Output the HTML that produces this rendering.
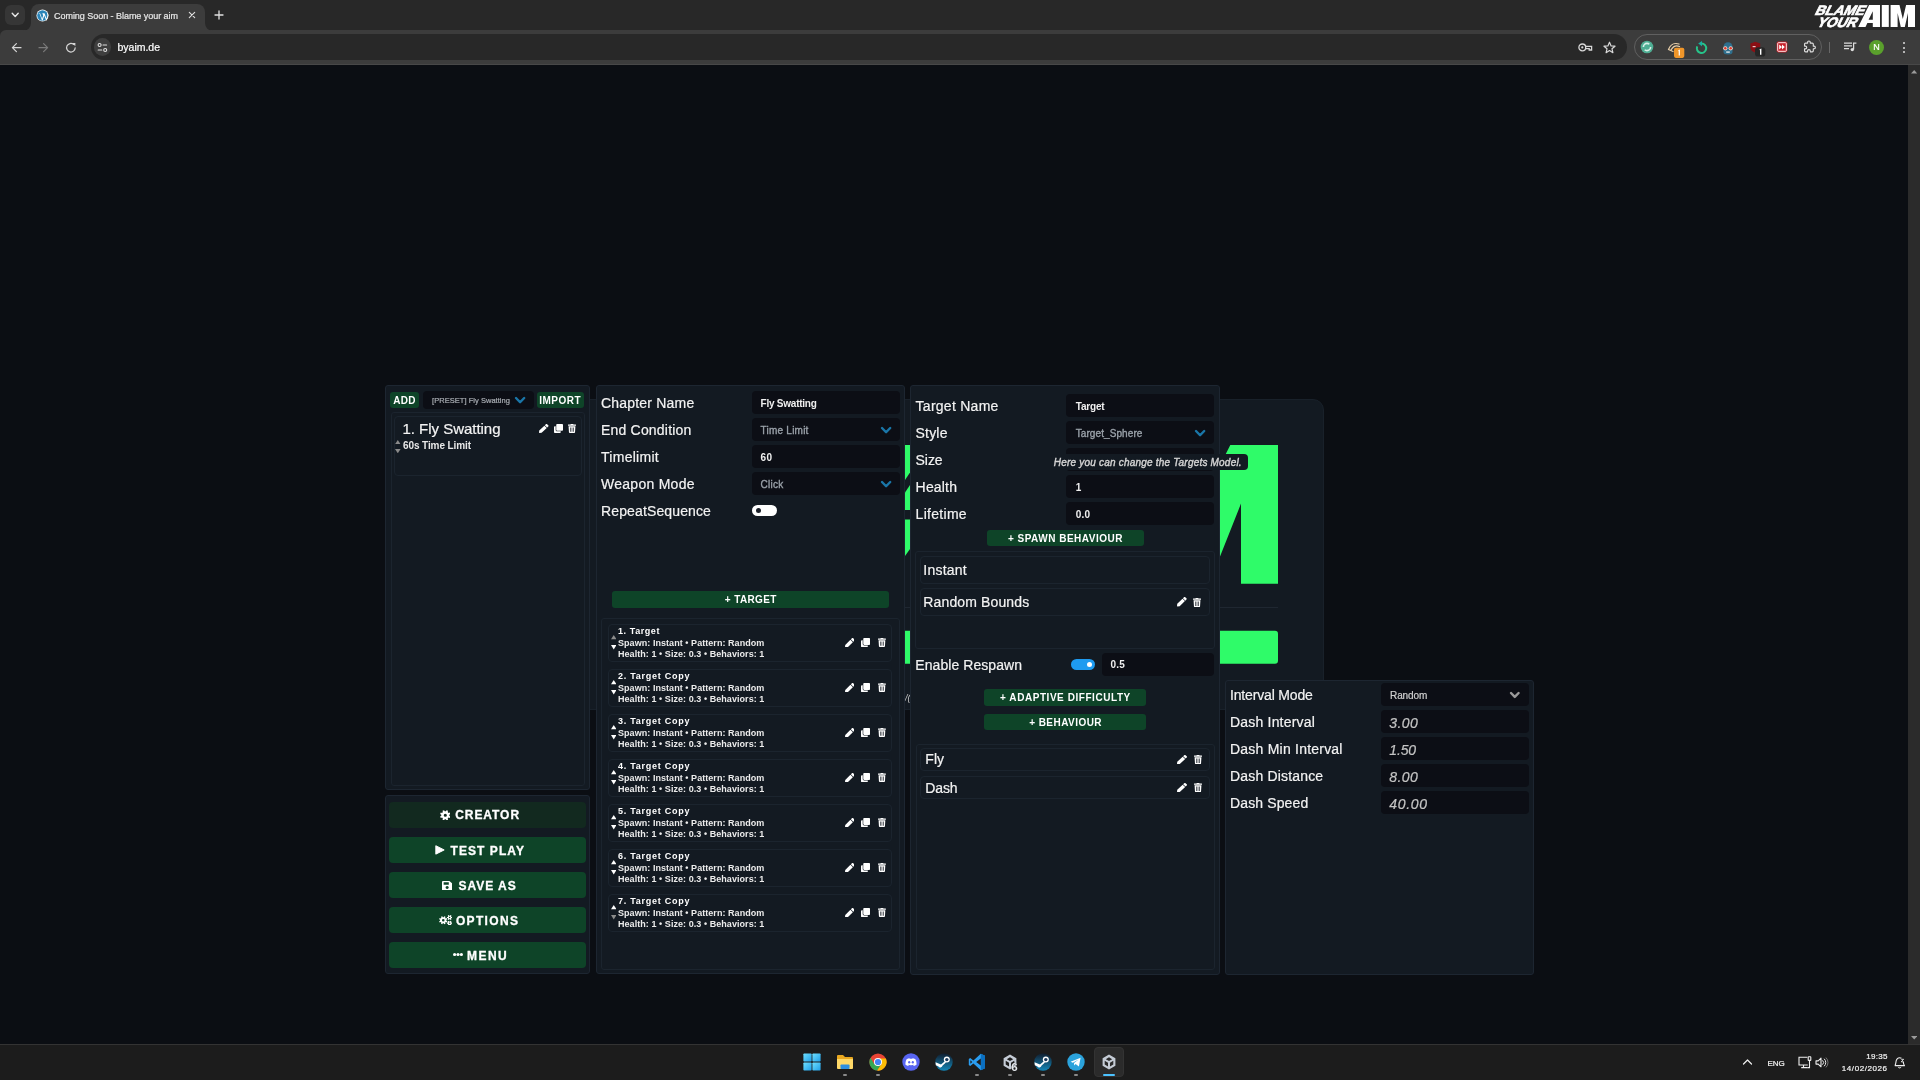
<!DOCTYPE html>
<html>
<head>
<meta charset="utf-8">
<title>Coming Soon - Blame your aim</title>
<style>
*{box-sizing:border-box;margin:0;padding:0}
html,body{width:1920px;height:1080px;overflow:hidden;background:#0b0e13;font-family:"Liberation Sans",sans-serif;color:#fff}
.a{position:absolute}
.t{position:absolute;white-space:nowrap;line-height:1}
/* chrome */
#tabstrip{left:0;top:0;width:1920px;height:31px;background:#282828}
#toolbar{left:0;top:30px;width:1920px;height:35px;background:#3c3c3c;border-bottom:1px solid #484848}
#tab{left:31px;top:4px;width:174px;height:27px;background:#3c3c3c;border-radius:8px 8px 0 0}
#urlbar{left:91px;top:34px;width:1536px;height:26px;border-radius:13px;background:#282828}
#extpill{left:1634px;top:34px;width:188px;height:26px;border-radius:13px;border:1px solid #606060}
/* page */
#scroll{left:1908px;top:65px;width:12px;height:979px;background:#2b2b2b}
#taskbar{left:0;top:1044px;width:1920px;height:36px;background:#1c1c1c;border-top:1px solid #333}
/* panels */
.panel{position:absolute;background:#131a22;border:1px solid #1d2631;border-radius:3px}
.box{position:absolute;border:1px solid #1b242e;border-radius:3px;background:#131a22}
.inp{position:absolute;background:#0c0e15;border-radius:4px;height:23px}
.gb{position:absolute;background:#0e4428;border-radius:3px}
.lbl{position:absolute;white-space:nowrap;font-size:14px;line-height:1;color:#f2f2f2}
.ico{position:absolute;fill:#fff}
</style>
</head>
<body>
<div id="root" style="position:absolute;left:0;top:0;width:1920px;height:1080px;will-change:transform">
<!-- ===== browser chrome ===== -->
<div class="a" id="tabstrip"></div>
<div class="a" id="toolbar"></div>
<div class="a" id="tab"></div>
<div class="a" id="urlbar"></div>
<div class="a" id="extpill"></div>
<!--CHROME-DETAILS-->
<svg class="a" style="left:23.00px;top:23.00px" width="8" height="8" viewBox="0 0 8 8"><path fill="#3c3c3c" d="M8 0 V8 H0 A8 8 0 0 0 8 0Z"/></svg>
<svg class="a" style="left:205.00px;top:23.00px" width="8" height="8" viewBox="0 0 8 8"><path fill="#3c3c3c" d="M0 0 V8 H8 A8 8 0 0 1 0 0Z"/></svg>
<svg class="a" style="left:0.00px;top:30.00px" width="6" height="6" viewBox="0 0 6 6"><path fill="#282828" d="M0 0 H6 A6 6 0 0 0 0 6Z"/></svg>
<div class="a" style="left:4.7px;top:4.7px;width:20.8px;height:20.8px;background:#363636;border-radius:6px"></div>
<svg class="a" style="left:11.00px;top:11.00px" width="9" height="8" viewBox="0 0 9 8"><polyline fill="none" stroke="#e6e6e6" stroke-width="1.4" stroke-linecap="round" stroke-linejoin="round" points="1.2,2.2 4.2,5.4 7.2,2.2"/></svg>
<svg class="a" style="left:35.50px;top:8.80px" width="13" height="13" viewBox="0 0 13 13"><circle cx="6.5" cy="6.5" r="6" fill="#fff"/><circle cx="6.5" cy="6.5" r="5.3" fill="#2a84b8"/><path fill="#fff" d="M2 4.2 h2.1 l2 5.6 1.1-3.2 -0.9-2.4 h2.2 l2 5.6 0.9-3 c0.3-1 0.1-1.6-0.4-2.4 l0.6-0.4 c0.8 1.2 0.8 2.2 0.5 3.2 l-1.4 4.3 h-0.6 l-1.8-5 -1.7 5 h-0.6 l-2.4-6.7z"/></svg>
<div class="t" style="left:54.00px;top:12.00px;font-size:9px;color:#e8e8e8;-webkit-text-stroke:0.2px;letter-spacing:-0.038px;">Coming Soon - Blame your aim</div>
<svg class="a" style="left:188.00px;top:11.00px" width="8" height="8" viewBox="0 0 8 8"><path stroke="#e0e0e0" stroke-width="1.1" stroke-linecap="round" d="M1.3 1.3 L6.7 6.7 M6.7 1.3 L1.3 6.7"/></svg>
<svg class="a" style="left:214.00px;top:10.00px" width="10" height="10" viewBox="0 0 10 10"><path stroke="#e0e0e0" stroke-width="1.3" stroke-linecap="round" d="M5 1 V9 M1 5 H9"/></svg>
<svg class="a" style="left:11.00px;top:41.50px" width="11" height="11" viewBox="0 0 11 11"><path fill="none" stroke="#d6d6d6" stroke-width="1.2" stroke-linecap="round" stroke-linejoin="round" d="M10 5.7 H1.6 M5.4 1.7 L1.4 5.7 L5.4 9.7"/></svg>
<svg class="a" style="left:38.00px;top:41.50px" width="11" height="11" viewBox="0 0 11 11"><path fill="none" stroke="#7a7a7a" stroke-width="1.2" stroke-linecap="round" stroke-linejoin="round" d="M1 5.7 H9.4 M5.6 1.7 L9.6 5.7 L5.6 9.7"/></svg>
<svg class="a" style="left:64.50px;top:41.50px" width="12" height="12" viewBox="0 0 12 12"><path fill="none" stroke="#d6d6d6" stroke-width="1.2" stroke-linecap="round" d="M10.2 5.8 A4.3 4.3 0 1 1 8.6 2.4"/><path fill="#d6d6d6" d="M7.2 0.9 L10.4 1 L10.3 4.3Z"/></svg>
<div class="a" style="left:93.8px;top:38.4px;width:17.6px;height:17.6px;background:#3e3e3e;border-radius:50%"></div>
<svg class="a" style="left:97.00px;top:42.00px" width="11" height="11" viewBox="0 0 11 11"><g fill="none" stroke="#e0e0e0" stroke-width="1.1" stroke-linecap="round"><circle cx="2.6" cy="3" r="1.5"/><path d="M6 3 H9.6"/><circle cx="8.2" cy="8" r="1.5"/><path d="M1.2 8 H4.8"/></g></svg>
<div class="t" style="left:117.50px;top:42.00px;font-size:10.5px;color:#fff;-webkit-text-stroke:0.2px;letter-spacing:-0.013px;">byaim.de</div>
<svg class="a" style="left:1578.00px;top:42.00px" width="15" height="11" viewBox="0 0 15 11"><g fill="none" stroke="#d8d8d8" stroke-width="1.3"><circle cx="4.3" cy="5.4" r="3.4"/><path d="M7.7 4.4 H13.6 V8 H11.2 V6.6 H7.7"/></g><circle cx="4.3" cy="5.4" r="1.1" fill="#d8d8d8"/></svg>
<svg class="a" style="left:1603.00px;top:40.50px" width="13" height="13" viewBox="0 0 13 13"><path fill="none" stroke="#d8d8d8" stroke-width="1.2" stroke-linejoin="round" d="M6.5 1.2 L8.1 4.9 L12 5.2 L9 7.8 L9.9 11.7 L6.5 9.6 L3.1 11.7 L4 7.8 L1 5.2 L4.9 4.9Z"/></svg>
<svg class="a" style="left:1640.00px;top:40.40px" width="14" height="14" viewBox="0 0 14 14"><circle cx="7" cy="7" r="6.3" fill="#4fae94"/><circle cx="7" cy="7" r="3.6" fill="none" stroke="#d9f0e8" stroke-width="1.6" stroke-dasharray="8 3"/></svg>
<svg class="a" style="left:1667.00px;top:40.00px" width="18" height="19" viewBox="0 0 18 19"><path fill="none" stroke="#e9cfa9" stroke-width="1.3" stroke-linecap="round" d="M1.5 9.5 C3 5 7 2.5 12 4 M4 10 C6 6.5 9 5 12.5 6.5 M1.5 9.5 L6 11.5"/><rect x="7" y="7.7" width="10.3" height="10.2" rx="1.8" fill="#f0962a"/><path fill="#fff" d="M11.3 10.3 l1.6-0.7 v6 h-1.2 v-4.6 l-0.4 0.2z"/></svg>
<svg class="a" style="left:1694.50px;top:40.50px" width="13" height="14" viewBox="0 0 13 14"><path fill="none" stroke="#27c48a" stroke-width="2" d="M6.5 2.6 A4.7 4.7 0 1 1 2.2 5.4"/><path fill="#18b0a0" d="M3.2 2.6 L7 0 V5.2Z"/></svg>
<svg class="a" style="left:1721.00px;top:40.50px" width="14" height="14" viewBox="0 0 14 14"><path fill="#2e6f8e" d="M2.5 6 A4.5 4.8 0 0 1 11.5 6 V11 A4.5 2.5 0 0 1 2.5 11Z"/><circle cx="4.3" cy="7.3" r="2.1" fill="#e8d9cc"/><circle cx="9.7" cy="7.3" r="2.1" fill="#e8d9cc"/><circle cx="4.3" cy="7.3" r="1.2" fill="#e0352b"/><circle cx="9.7" cy="7.3" r="1.2" fill="#e0352b"/><rect x="5.2" y="10.3" width="3.6" height="1.6" fill="#c9d6dc"/></svg>
<svg class="a" style="left:1749.00px;top:41.00px" width="18" height="17" viewBox="0 0 18 17"><path fill="#8b0f14" d="M6.3 0.8 L11.2 2.4 V6.4 C11.2 9 9 10.6 6.3 11.4 C3.6 10.6 1.4 9 1.4 6.4 V2.4Z"/><rect x="3.6" y="5" width="3" height="1.2" fill="#e8c9c9"/><rect x="6" y="6.2" width="10.3" height="9.4" rx="3.2" fill="#262626"/><path fill="#fff" d="M10.6 8.2 l1.8-0.7 v6.2 h-1.4 v-4.6 l-0.4 0.2z"/></svg>
<svg class="a" style="left:1776.00px;top:41.00px" width="12" height="12" viewBox="0 0 12 12"><rect x="0.6" y="0.6" width="10.8" height="10.8" rx="1.8" fill="#c8202a"/><rect x="1.7" y="1.7" width="8.6" height="8.6" rx="0.8" fill="none" stroke="#fff" stroke-width="0.9"/><path fill="#fff" d="M3.2 3.6 L6 6 L3.2 8.4Z M6 3.6 L8.8 6 L6 8.4Z"/></svg>
<svg class="a" style="left:1803.00px;top:40.20px" width="13.4" height="13.4" viewBox="-1 -1 26 26"><path fill="none" stroke="#dedede" stroke-width="2.2" stroke-linejoin="round" d="M20.5 11H19V7c0-1.1-.9-2-2-2h-4V3.5C13 2.12 11.88 1 10.5 1S8 2.12 8 3.5V5H4c-1.1 0-1.99.9-1.99 2v3.8H3.5c1.49 0 2.7 1.21 2.7 2.7s-1.21 2.7-2.7 2.7H2V20c0 1.1.9 2 2 2h3.8v-1.5c0-1.49 1.21-2.7 2.7-2.7 1.49 0 2.7 1.21 2.7 2.7V22H17c1.1 0 2-.9 2-2v-4h1.5c1.38 0 2.5-1.12 2.5-2.5S21.88 11 20.5 11z"/></svg>
<div class="a" style="left:1828.6px;top:41.6px;width:1.2px;height:11.2px;background:#686868"></div>
<svg class="a" style="left:1844.00px;top:42.00px" width="13" height="10" viewBox="0 0 13 10"><g stroke="#dcdcdc" stroke-width="1.25" fill="none"><path d="M0 1.2 H8 M0 3.9 H8 M0 6.6 H5"/><path d="M9.6 7.4 V1 H12.4"/></g><circle cx="8.3" cy="7.6" r="1.7" fill="#dcdcdc"/></svg>
<div class="a" style="left:1868.9px;top:39.7px;width:15.0px;height:15.0px;background:#5aa02c;border-radius:50%"></div>
<div class="t" style="left:1873.15px;top:43.00px;font-size:9px;color:#fff;-webkit-text-stroke:0.2px;">N</div>
<div class="a" style="left:1902.5px;top:42.0px;width:2.0px;height:2.0px;background:#dcdcdc;border-radius:50%"></div>
<div class="a" style="left:1902.5px;top:46.5px;width:2.0px;height:2.0px;background:#dcdcdc;border-radius:50%"></div>
<div class="a" style="left:1902.5px;top:51.0px;width:2.0px;height:2.0px;background:#dcdcdc;border-radius:50%"></div>
<svg class="a" style="left:1808.00px;top:0.00px" width="112" height="32" viewBox="0 0 112 32"><g fill="#fff"><g transform="translate(5.9,14.9) skewX(-26.4)"><text x="0" y="0" font-family="Liberation Sans" font-weight="bold" font-size="13.6" textLength="49.5" lengthAdjust="spacingAndGlyphs" stroke="#fff" stroke-width="0.7">BLAME</text></g><g transform="translate(7.9,26.95) skewX(-26.4)"><text x="0" y="0" font-family="Liberation Sans" font-weight="bold" font-size="13.8" textLength="39.6" lengthAdjust="spacingAndGlyphs" stroke="#fff" stroke-width="0.7">YOUR</text></g><path fill-rule="evenodd" d="M50.2 26.95 L61.1 5 H72 V26.95 H64.8 V23 H59.4 L57.5 26.95Z M64.8 11.2 V19.8 H60.6Z"/><rect x="73.8" y="5" width="7" height="21.95"/><path d="M82.6 5 H91.5 L94.8 19 L98.1 5 H107 V26.95 H100 V13 L96.8 26.95 H92.8 L89.6 13 V26.95 H82.6Z"/></g></svg>
<!--/CHROME-DETAILS-->

<!-- ===== page ===== -->
<div class="a" id="scroll"></div>
<div class="a" id="card" style="left:560px;top:399px;width:764px;height:311px;background:#131a22;border:1px solid #19212a;border-radius:11px"></div>
<svg class="a" style="left:0;top:0" width="1920" height="1080">
 <g fill="#2ffb69">
  <polygon points="1230.3,445 1278,445 1278,583.7 1241,583.7 1241,503.6 1200,607 1190,607 1190,525"/>
  <polygon points="905,445 910,445 910,472.5 905,480"/>
  <polygon points="905,492.5 910,485 910,510 905,510"/>
  <polygon points="905,519.5 910,519.5 910,549 905,556"/>
  <rect x="900" y="630.7" width="378" height="33" rx="3"/>
 </g>
 <rect x="900" y="607" width="378" height="1" fill="#1f2731"/>
</svg>
<div class="t" style="left:905px;top:694px;font-size:9px;font-style:italic;color:#c8c8c8">/(</div>

<!--LEFT-->
<div class="panel" style="left:385.0px;top:385.0px;width:205.0px;height:405.0px;"></div>
<div class="gb" style="left:390.0px;top:392.0px;width:29.0px;height:16.0px;"></div>
<div class="t" style="left:393.25px;top:396.00px;font-size:10px;color:#fff;font-weight:bold;letter-spacing:0.278px;">ADD</div>
<div class="inp" style="left:423.0px;top:391.0px;width:111.0px;height:18.0px;height:18px"></div>
<div class="t" style="left:432.00px;top:397.00px;font-size:7.5px;color:#a9adb3;-webkit-text-stroke:0.2px;letter-spacing:0.043px;">[PRESET] Fly Swatting</div>
<svg class="a" style="left:512.90px;top:395.38px" width="14.20" height="10.24"><polyline fill="none" stroke="#1a76a8" stroke-width="2.4" stroke-linecap="round" stroke-linejoin="round" points="3,3 7.10,7.24 11.20,3"/></svg>
<div class="gb" style="left:537.0px;top:392.0px;width:47.0px;height:16.0px;"></div>
<div class="t" style="left:539.20px;top:396.00px;font-size:10px;color:#fff;font-weight:bold;letter-spacing:0.519px;">IMPORT</div>
<div class="box" style="left:391.0px;top:412.0px;width:194.0px;height:374.0px;"></div>
<div class="box" style="left:393.5px;top:416.0px;width:188.1px;height:59.5px;border-radius:4px"></div>
<div class="t" style="left:402.50px;top:421.00px;font-size:15px;color:#f4f4f4;-webkit-text-stroke:0.2px;letter-spacing:-0.025px;">1. Fly Swatting</div>
<svg class="a" style="left:539.00px;top:424.00px" width="9.50" height="9.00" viewBox="0 0 512 512" preserveAspectRatio="none"><path fill="#fff" fill-rule="evenodd" d="M290.74 93.24l128.02 128.02-277.99 277.99-114.14 12.6C11.35 513.54-1.56 500.62.14 485.34l12.7-114.22 277.9-277.88zm207.2-19.06l-60.11-60.11c-18.75-18.75-49.16-18.75-67.91 0l-56.55 56.55 128.02 128.02 56.55-56.55c18.75-18.76 18.75-49.16 0-67.91z"/></svg>
<svg class="a" style="left:554.00px;top:424.00px" width="9.00" height="9.00" viewBox="0 0 512 512" preserveAspectRatio="none"><path fill="#fff" fill-rule="evenodd" d="M464 0c26.51 0 48 21.49 48 48v288c0 26.51-21.49 48-48 48H176c-26.51 0-48-21.49-48-48V48c0-26.51 21.49-48 48-48h288M176 416c-44.112 0-80-35.888-80-80V128H48c-26.51 0-48 21.49-48 48v288c0 26.51 21.49 48 48 48h288c26.51 0 48-21.49 48-48v-48H176z"/></svg>
<svg class="a" style="left:568.00px;top:424.00px" width="8.00" height="9.00" viewBox="0 0 448 512" preserveAspectRatio="none"><path fill="#fff" fill-rule="evenodd" d="M432 32H312l-9.4-18.7A24 24 0 0 0 281.1 0H166.8a23.72 23.72 0 0 0-21.4 13.3L136 32H16A16 16 0 0 0 0 48v32a16 16 0 0 0 16 16h416a16 16 0 0 0 16-16V48a16 16 0 0 0-16-16zM53.2 467a48 48 0 0 0 47.9 45h245.8a48 48 0 0 0 47.9-45L416 128H32zM120 200h36v240h-36zM206 200h36v240h-36zM292 200h36v240h-36z"/></svg>
<svg class="a" style="left:395.40px;top:439.75px" width="5.60" height="4.30"><polygon fill="#8a8a8a" points="2.80,0 5.60,4.30 0,4.30"/></svg>
<svg class="a" style="left:395.40px;top:448.75px" width="5.60" height="4.30"><polygon fill="#8a8a8a" points="0,0 5.60,0 2.80,4.30"/></svg>
<div class="t" style="left:403.00px;top:441.00px;font-size:10px;color:#e8e8e8;font-weight:bold;letter-spacing:-0.092px;">60s Time Limit</div>
<div class="panel" style="left:385.0px;top:795.0px;width:205.0px;height:179.0px;"></div>
<div class="gb" style="left:389.0px;top:802.0px;width:197.0px;height:26.2px;border-radius:4px;background:#12291f;"></div>
<div class="gb" style="left:389.0px;top:836.7px;width:197.0px;height:26.6px;border-radius:4px;"></div>
<div class="gb" style="left:389.0px;top:871.7px;width:197.0px;height:26.7px;border-radius:4px;"></div>
<div class="gb" style="left:389.0px;top:906.5px;width:197.0px;height:26.9px;border-radius:4px;"></div>
<div class="gb" style="left:389.0px;top:941.8px;width:197.0px;height:26.5px;border-radius:4px;"></div>
<div class="t" style="left:455.20px;top:809.00px;font-size:12px;color:#fff;font-weight:bold;letter-spacing:0.939px;-webkit-text-stroke:0.3px;">CREATOR</div>
<svg class="a" style="left:439.70px;top:809.70px" width="10.60" height="10.50" viewBox="0 0 100 100" preserveAspectRatio="none"><path fill="#fff" fill-rule="evenodd" d="M87.58 55.65 L98.71 61.29 L92.43 76.46 L80.57 72.58 L72.58 80.57 L76.46 92.43 L61.29 98.71 L55.65 87.58 L44.35 87.58 L38.71 98.71 L23.54 92.43 L27.42 80.57 L19.43 72.58 L7.57 76.46 L1.29 61.29 L12.42 55.65 L12.42 44.35 L1.29 38.71 L7.57 23.54 L19.43 27.42 L27.42 19.43 L23.54 7.57 L38.71 1.29 L44.35 12.42 L55.65 12.42 L61.29 1.29 L76.46 7.57 L72.58 19.43 L80.57 27.42 L92.43 23.54 L98.71 38.71 L87.58 44.35Z M35.00 50.00 a15.00 15.00 0 1 0 30.00 0 a15.00 15.00 0 1 0 -30.00 0Z"/></svg>
<div class="t" style="left:450.60px;top:845.00px;font-size:12px;color:#fff;font-weight:bold;letter-spacing:1.055px;-webkit-text-stroke:0.3px;">TEST PLAY</div>
<svg class="a" style="left:434.90px;top:845.30px" width="10.00" height="9.90" viewBox="0 0 100 110" preserveAspectRatio="none"><path fill="#fff" stroke="#fff" stroke-width="10" stroke-linejoin="round" d="M8 8 L92 55 L8 102Z"/></svg>
<div class="t" style="left:458.60px;top:880.00px;font-size:12px;color:#fff;font-weight:bold;letter-spacing:0.951px;-webkit-text-stroke:0.3px;">SAVE AS</div>
<svg class="a" style="left:442.00px;top:880.60px" width="10.30" height="9.40" viewBox="0 0 100 100" preserveAspectRatio="none"><path fill="#fff" fill-rule="evenodd" d="M10 0 H72 L100 28 V90 a10 10 0 0 1 -10 10 H10 a10 10 0 0 1 -10 -10 V10 a10 10 0 0 1 10 -10Z M16 14 V40 H66 V14Z M50 54 a15 15 0 1 0 0.01 0Z"/></svg>
<div class="t" style="left:455.90px;top:915.00px;font-size:12px;color:#fff;font-weight:bold;letter-spacing:1.342px;-webkit-text-stroke:0.3px;">OPTIONS</div>
<svg class="a" style="left:439.00px;top:914.70px" width="13.40" height="10.70" viewBox="0 0 126 106" preserveAspectRatio="none"><path fill="#fff" fill-rule="evenodd" d="M69.67 56.46 L78.97 61.03 L73.94 73.17 L64.13 69.82 L57.82 76.13 L61.17 85.94 L49.03 90.97 L44.46 81.67 L35.54 81.67 L30.97 90.97 L18.83 85.94 L22.18 76.13 L15.87 69.82 L6.06 73.17 L1.03 61.03 L10.33 56.46 L10.33 47.54 L1.03 42.97 L6.06 30.83 L15.87 34.18 L22.18 27.87 L18.83 18.06 L30.97 13.03 L35.54 22.33 L44.46 22.33 L49.03 13.03 L61.17 18.06 L57.82 27.87 L64.13 34.18 L73.94 30.83 L78.97 42.97 L69.67 47.54Z M28.00 52.00 a12.00 12.00 0 1 0 24.00 0 a12.00 12.00 0 1 0 -24.00 0Z M117.06 19.26 L125.37 19.33 L125.37 30.67 L117.06 30.74 L113.50 36.90 L117.60 44.14 L107.78 49.81 L103.56 42.64 L96.44 42.64 L92.22 49.81 L82.40 44.14 L86.50 36.90 L82.94 30.74 L74.63 30.67 L74.63 19.33 L82.94 19.26 L86.50 13.10 L82.40 5.86 L92.22 0.19 L96.44 7.36 L103.56 7.36 L107.78 0.19 L117.60 5.86 L113.50 13.10Z M93.00 25.00 a7.00 7.00 0 1 0 14.00 0 a7.00 7.00 0 1 0 -14.00 0Z M117.06 75.26 L125.37 75.33 L125.37 86.67 L117.06 86.74 L113.50 92.90 L117.60 100.14 L107.78 105.81 L103.56 98.64 L96.44 98.64 L92.22 105.81 L82.40 100.14 L86.50 92.90 L82.94 86.74 L74.63 86.67 L74.63 75.33 L82.94 75.26 L86.50 69.10 L82.40 61.86 L92.22 56.19 L96.44 63.36 L103.56 63.36 L107.78 56.19 L117.60 61.86 L113.50 69.10Z M93.00 81.00 a7.00 7.00 0 1 0 14.00 0 a7.00 7.00 0 1 0 -14.00 0Z"/></svg>
<div class="t" style="left:467.10px;top:950.00px;font-size:12px;color:#fff;font-weight:bold;letter-spacing:1.417px;-webkit-text-stroke:0.3px;">MENU</div>
<svg class="a" style="left:453.00px;top:953.10px" width="10.00" height="3.00" viewBox="0 0 100 32" preserveAspectRatio="none"><circle cx="16" cy="16" r="16" fill="#fff"/><circle cx="50" cy="16" r="16" fill="#fff"/><circle cx="84" cy="16" r="16" fill="#fff"/></svg>
<!--/LEFT-->
<!--MIDDLE-->
<div class="panel" style="left:596.0px;top:385.0px;width:309.0px;height:589.0px;"></div>
<div class="t" style="left:601.00px;top:396.00px;font-size:14px;color:#f3f3f3;-webkit-text-stroke:0.2px;letter-spacing:0.197px;">Chapter Name</div>
<div class="t" style="left:601.00px;top:423.00px;font-size:14px;color:#f3f3f3;-webkit-text-stroke:0.2px;letter-spacing:0.196px;">End Condition</div>
<div class="t" style="left:601.00px;top:450.00px;font-size:14px;color:#f3f3f3;-webkit-text-stroke:0.2px;letter-spacing:0.281px;">Timelimit</div>
<div class="t" style="left:601.00px;top:477.00px;font-size:14px;color:#f3f3f3;-webkit-text-stroke:0.2px;letter-spacing:0.268px;">Weapon Mode</div>
<div class="t" style="left:601.00px;top:504.00px;font-size:14px;color:#f3f3f3;-webkit-text-stroke:0.2px;letter-spacing:0.129px;">RepeatSequence</div>
<div class="inp" style="left:752.0px;top:391.0px;width:147.5px;height:23.0px;"></div>
<div class="inp" style="left:752.0px;top:418.0px;width:147.5px;height:23.0px;"></div>
<div class="inp" style="left:752.0px;top:445.0px;width:147.5px;height:23.0px;"></div>
<div class="inp" style="left:752.0px;top:472.0px;width:147.5px;height:23.0px;"></div>
<div class="t" style="left:760.60px;top:399.00px;font-size:10px;color:#f0f0f0;font-weight:bold;letter-spacing:-0.241px;">Fly Swatting</div>
<div class="t" style="left:760.60px;top:426.00px;font-size:10px;color:#9aa1a9;-webkit-text-stroke:0.2px;letter-spacing:0.226px;-webkit-text-stroke:0.35px;">Time Limit</div>
<div class="t" style="left:760.60px;top:453.00px;font-size:10px;color:#f0f0f0;font-weight:bold;letter-spacing:0.438px;">60</div>
<div class="t" style="left:760.60px;top:480.00px;font-size:10px;color:#9aa1a9;-webkit-text-stroke:0.2px;letter-spacing:0.267px;-webkit-text-stroke:0.35px;">Click</div>
<svg class="a" style="left:878.50px;top:424.88px" width="14.20" height="10.24"><polyline fill="none" stroke="#1a76a8" stroke-width="2.4" stroke-linecap="round" stroke-linejoin="round" points="3,3 7.10,7.24 11.20,3"/></svg>
<svg class="a" style="left:878.50px;top:478.88px" width="14.20" height="10.24"><polyline fill="none" stroke="#1a76a8" stroke-width="2.4" stroke-linecap="round" stroke-linejoin="round" points="3,3 7.10,7.24 11.20,3"/></svg>
<div class="a" style="left:752px;top:505px;width:24.5px;height:11px;border-radius:5.5px;background:#fff"></div><div class="a" style="left:755.6px;top:507.8px;width:5.4px;height:5.4px;border-radius:50%;background:#1a1f28"></div>
<div class="gb" style="left:612.0px;top:591.0px;width:277.0px;height:17.0px;"></div>
<div class="t" style="left:724.80px;top:595.00px;font-size:10px;color:#fff;font-weight:bold;letter-spacing:0.377px;">+ TARGET</div>
<div class="box" style="left:601.3px;top:618.3px;width:298.5px;height:351.7px;"></div>
<div class="box" style="left:608.3px;top:624.0px;width:284.1px;height:38.0px;border-radius:4px"></div>
<div class="t" style="left:618.00px;top:627.00px;font-size:9px;color:#fff;font-weight:bold;letter-spacing:0.573px;">1. Target</div>
<div class="t" style="left:618.00px;top:639.00px;font-size:9px;color:#ececec;font-weight:bold;letter-spacing:0.054px;">Spawn: Instant • Pattern: Random</div>
<div class="t" style="left:618.00px;top:650.00px;font-size:9px;color:#ececec;font-weight:bold;letter-spacing:0.057px;">Health: 1 • Size: 0.3 • Behaviors: 1</div>
<svg class="a" style="left:610.75px;top:635.40px" width="5.50" height="4.20"><polygon fill="#8c8c8c" points="2.75,0 5.50,4.20 0,4.20"/></svg>
<svg class="a" style="left:610.75px;top:645.20px" width="5.50" height="4.40"><polygon fill="#fff" points="0,0 5.50,0 2.75,4.40"/></svg>
<svg class="a" style="left:844.80px;top:637.60px" width="9.60" height="9.60" viewBox="0 0 512 512" preserveAspectRatio="none"><path fill="#fff" fill-rule="evenodd" d="M290.74 93.24l128.02 128.02-277.99 277.99-114.14 12.6C11.35 513.54-1.56 500.62.14 485.34l12.7-114.22 277.9-277.88zm207.2-19.06l-60.11-60.11c-18.75-18.75-49.16-18.75-67.91 0l-56.55 56.55 128.02 128.02 56.55-56.55c18.75-18.76 18.75-49.16 0-67.91z"/></svg>
<svg class="a" style="left:860.90px;top:637.80px" width="9.10" height="9.20" viewBox="0 0 512 512" preserveAspectRatio="none"><path fill="#fff" fill-rule="evenodd" d="M464 0c26.51 0 48 21.49 48 48v288c0 26.51-21.49 48-48 48H176c-26.51 0-48-21.49-48-48V48c0-26.51 21.49-48 48-48h288M176 416c-44.112 0-80-35.888-80-80V128H48c-26.51 0-48 21.49-48 48v288c0 26.51 21.49 48 48 48h288c26.51 0 48-21.49 48-48v-48H176z"/></svg>
<svg class="a" style="left:877.80px;top:638.00px" width="7.90" height="9.00" viewBox="0 0 448 512" preserveAspectRatio="none"><path fill="#fff" fill-rule="evenodd" d="M432 32H312l-9.4-18.7A24 24 0 0 0 281.1 0H166.8a23.72 23.72 0 0 0-21.4 13.3L136 32H16A16 16 0 0 0 0 48v32a16 16 0 0 0 16 16h416a16 16 0 0 0 16-16V48a16 16 0 0 0-16-16zM53.2 467a48 48 0 0 0 47.9 45h245.8a48 48 0 0 0 47.9-45L416 128H32zM120 200h36v240h-36zM206 200h36v240h-36zM292 200h36v240h-36z"/></svg>
<div class="box" style="left:608.3px;top:669.0px;width:284.1px;height:38.0px;border-radius:4px"></div>
<div class="t" style="left:618.00px;top:672.00px;font-size:9px;color:#fff;font-weight:bold;letter-spacing:0.747px;">2. Target Copy</div>
<div class="t" style="left:618.00px;top:684.00px;font-size:9px;color:#ececec;font-weight:bold;letter-spacing:0.054px;">Spawn: Instant • Pattern: Random</div>
<div class="t" style="left:618.00px;top:695.00px;font-size:9px;color:#ececec;font-weight:bold;letter-spacing:0.057px;">Health: 1 • Size: 0.3 • Behaviors: 1</div>
<svg class="a" style="left:610.75px;top:680.40px" width="5.50" height="4.20"><polygon fill="#fff" points="2.75,0 5.50,4.20 0,4.20"/></svg>
<svg class="a" style="left:610.75px;top:690.20px" width="5.50" height="4.40"><polygon fill="#fff" points="0,0 5.50,0 2.75,4.40"/></svg>
<svg class="a" style="left:844.80px;top:682.60px" width="9.60" height="9.60" viewBox="0 0 512 512" preserveAspectRatio="none"><path fill="#fff" fill-rule="evenodd" d="M290.74 93.24l128.02 128.02-277.99 277.99-114.14 12.6C11.35 513.54-1.56 500.62.14 485.34l12.7-114.22 277.9-277.88zm207.2-19.06l-60.11-60.11c-18.75-18.75-49.16-18.75-67.91 0l-56.55 56.55 128.02 128.02 56.55-56.55c18.75-18.76 18.75-49.16 0-67.91z"/></svg>
<svg class="a" style="left:860.90px;top:682.80px" width="9.10" height="9.20" viewBox="0 0 512 512" preserveAspectRatio="none"><path fill="#fff" fill-rule="evenodd" d="M464 0c26.51 0 48 21.49 48 48v288c0 26.51-21.49 48-48 48H176c-26.51 0-48-21.49-48-48V48c0-26.51 21.49-48 48-48h288M176 416c-44.112 0-80-35.888-80-80V128H48c-26.51 0-48 21.49-48 48v288c0 26.51 21.49 48 48 48h288c26.51 0 48-21.49 48-48v-48H176z"/></svg>
<svg class="a" style="left:877.80px;top:683.00px" width="7.90" height="9.00" viewBox="0 0 448 512" preserveAspectRatio="none"><path fill="#fff" fill-rule="evenodd" d="M432 32H312l-9.4-18.7A24 24 0 0 0 281.1 0H166.8a23.72 23.72 0 0 0-21.4 13.3L136 32H16A16 16 0 0 0 0 48v32a16 16 0 0 0 16 16h416a16 16 0 0 0 16-16V48a16 16 0 0 0-16-16zM53.2 467a48 48 0 0 0 47.9 45h245.8a48 48 0 0 0 47.9-45L416 128H32zM120 200h36v240h-36zM206 200h36v240h-36zM292 200h36v240h-36z"/></svg>
<div class="box" style="left:608.3px;top:714.0px;width:284.1px;height:38.0px;border-radius:4px"></div>
<div class="t" style="left:618.00px;top:717.00px;font-size:9px;color:#fff;font-weight:bold;letter-spacing:0.747px;">3. Target Copy</div>
<div class="t" style="left:618.00px;top:729.00px;font-size:9px;color:#ececec;font-weight:bold;letter-spacing:0.054px;">Spawn: Instant • Pattern: Random</div>
<div class="t" style="left:618.00px;top:740.00px;font-size:9px;color:#ececec;font-weight:bold;letter-spacing:0.057px;">Health: 1 • Size: 0.3 • Behaviors: 1</div>
<svg class="a" style="left:610.75px;top:725.40px" width="5.50" height="4.20"><polygon fill="#fff" points="2.75,0 5.50,4.20 0,4.20"/></svg>
<svg class="a" style="left:610.75px;top:735.20px" width="5.50" height="4.40"><polygon fill="#fff" points="0,0 5.50,0 2.75,4.40"/></svg>
<svg class="a" style="left:844.80px;top:727.60px" width="9.60" height="9.60" viewBox="0 0 512 512" preserveAspectRatio="none"><path fill="#fff" fill-rule="evenodd" d="M290.74 93.24l128.02 128.02-277.99 277.99-114.14 12.6C11.35 513.54-1.56 500.62.14 485.34l12.7-114.22 277.9-277.88zm207.2-19.06l-60.11-60.11c-18.75-18.75-49.16-18.75-67.91 0l-56.55 56.55 128.02 128.02 56.55-56.55c18.75-18.76 18.75-49.16 0-67.91z"/></svg>
<svg class="a" style="left:860.90px;top:727.80px" width="9.10" height="9.20" viewBox="0 0 512 512" preserveAspectRatio="none"><path fill="#fff" fill-rule="evenodd" d="M464 0c26.51 0 48 21.49 48 48v288c0 26.51-21.49 48-48 48H176c-26.51 0-48-21.49-48-48V48c0-26.51 21.49-48 48-48h288M176 416c-44.112 0-80-35.888-80-80V128H48c-26.51 0-48 21.49-48 48v288c0 26.51 21.49 48 48 48h288c26.51 0 48-21.49 48-48v-48H176z"/></svg>
<svg class="a" style="left:877.80px;top:728.00px" width="7.90" height="9.00" viewBox="0 0 448 512" preserveAspectRatio="none"><path fill="#fff" fill-rule="evenodd" d="M432 32H312l-9.4-18.7A24 24 0 0 0 281.1 0H166.8a23.72 23.72 0 0 0-21.4 13.3L136 32H16A16 16 0 0 0 0 48v32a16 16 0 0 0 16 16h416a16 16 0 0 0 16-16V48a16 16 0 0 0-16-16zM53.2 467a48 48 0 0 0 47.9 45h245.8a48 48 0 0 0 47.9-45L416 128H32zM120 200h36v240h-36zM206 200h36v240h-36zM292 200h36v240h-36z"/></svg>
<div class="box" style="left:608.3px;top:759.0px;width:284.1px;height:38.0px;border-radius:4px"></div>
<div class="t" style="left:618.00px;top:762.00px;font-size:9px;color:#fff;font-weight:bold;letter-spacing:0.747px;">4. Target Copy</div>
<div class="t" style="left:618.00px;top:774.00px;font-size:9px;color:#ececec;font-weight:bold;letter-spacing:0.054px;">Spawn: Instant • Pattern: Random</div>
<div class="t" style="left:618.00px;top:785.00px;font-size:9px;color:#ececec;font-weight:bold;letter-spacing:0.057px;">Health: 1 • Size: 0.3 • Behaviors: 1</div>
<svg class="a" style="left:610.75px;top:770.40px" width="5.50" height="4.20"><polygon fill="#fff" points="2.75,0 5.50,4.20 0,4.20"/></svg>
<svg class="a" style="left:610.75px;top:780.20px" width="5.50" height="4.40"><polygon fill="#fff" points="0,0 5.50,0 2.75,4.40"/></svg>
<svg class="a" style="left:844.80px;top:772.60px" width="9.60" height="9.60" viewBox="0 0 512 512" preserveAspectRatio="none"><path fill="#fff" fill-rule="evenodd" d="M290.74 93.24l128.02 128.02-277.99 277.99-114.14 12.6C11.35 513.54-1.56 500.62.14 485.34l12.7-114.22 277.9-277.88zm207.2-19.06l-60.11-60.11c-18.75-18.75-49.16-18.75-67.91 0l-56.55 56.55 128.02 128.02 56.55-56.55c18.75-18.76 18.75-49.16 0-67.91z"/></svg>
<svg class="a" style="left:860.90px;top:772.80px" width="9.10" height="9.20" viewBox="0 0 512 512" preserveAspectRatio="none"><path fill="#fff" fill-rule="evenodd" d="M464 0c26.51 0 48 21.49 48 48v288c0 26.51-21.49 48-48 48H176c-26.51 0-48-21.49-48-48V48c0-26.51 21.49-48 48-48h288M176 416c-44.112 0-80-35.888-80-80V128H48c-26.51 0-48 21.49-48 48v288c0 26.51 21.49 48 48 48h288c26.51 0 48-21.49 48-48v-48H176z"/></svg>
<svg class="a" style="left:877.80px;top:773.00px" width="7.90" height="9.00" viewBox="0 0 448 512" preserveAspectRatio="none"><path fill="#fff" fill-rule="evenodd" d="M432 32H312l-9.4-18.7A24 24 0 0 0 281.1 0H166.8a23.72 23.72 0 0 0-21.4 13.3L136 32H16A16 16 0 0 0 0 48v32a16 16 0 0 0 16 16h416a16 16 0 0 0 16-16V48a16 16 0 0 0-16-16zM53.2 467a48 48 0 0 0 47.9 45h245.8a48 48 0 0 0 47.9-45L416 128H32zM120 200h36v240h-36zM206 200h36v240h-36zM292 200h36v240h-36z"/></svg>
<div class="box" style="left:608.3px;top:804.0px;width:284.1px;height:38.0px;border-radius:4px"></div>
<div class="t" style="left:618.00px;top:807.00px;font-size:9px;color:#fff;font-weight:bold;letter-spacing:0.747px;">5. Target Copy</div>
<div class="t" style="left:618.00px;top:819.00px;font-size:9px;color:#ececec;font-weight:bold;letter-spacing:0.054px;">Spawn: Instant • Pattern: Random</div>
<div class="t" style="left:618.00px;top:830.00px;font-size:9px;color:#ececec;font-weight:bold;letter-spacing:0.057px;">Health: 1 • Size: 0.3 • Behaviors: 1</div>
<svg class="a" style="left:610.75px;top:815.40px" width="5.50" height="4.20"><polygon fill="#fff" points="2.75,0 5.50,4.20 0,4.20"/></svg>
<svg class="a" style="left:610.75px;top:825.20px" width="5.50" height="4.40"><polygon fill="#fff" points="0,0 5.50,0 2.75,4.40"/></svg>
<svg class="a" style="left:844.80px;top:817.60px" width="9.60" height="9.60" viewBox="0 0 512 512" preserveAspectRatio="none"><path fill="#fff" fill-rule="evenodd" d="M290.74 93.24l128.02 128.02-277.99 277.99-114.14 12.6C11.35 513.54-1.56 500.62.14 485.34l12.7-114.22 277.9-277.88zm207.2-19.06l-60.11-60.11c-18.75-18.75-49.16-18.75-67.91 0l-56.55 56.55 128.02 128.02 56.55-56.55c18.75-18.76 18.75-49.16 0-67.91z"/></svg>
<svg class="a" style="left:860.90px;top:817.80px" width="9.10" height="9.20" viewBox="0 0 512 512" preserveAspectRatio="none"><path fill="#fff" fill-rule="evenodd" d="M464 0c26.51 0 48 21.49 48 48v288c0 26.51-21.49 48-48 48H176c-26.51 0-48-21.49-48-48V48c0-26.51 21.49-48 48-48h288M176 416c-44.112 0-80-35.888-80-80V128H48c-26.51 0-48 21.49-48 48v288c0 26.51 21.49 48 48 48h288c26.51 0 48-21.49 48-48v-48H176z"/></svg>
<svg class="a" style="left:877.80px;top:818.00px" width="7.90" height="9.00" viewBox="0 0 448 512" preserveAspectRatio="none"><path fill="#fff" fill-rule="evenodd" d="M432 32H312l-9.4-18.7A24 24 0 0 0 281.1 0H166.8a23.72 23.72 0 0 0-21.4 13.3L136 32H16A16 16 0 0 0 0 48v32a16 16 0 0 0 16 16h416a16 16 0 0 0 16-16V48a16 16 0 0 0-16-16zM53.2 467a48 48 0 0 0 47.9 45h245.8a48 48 0 0 0 47.9-45L416 128H32zM120 200h36v240h-36zM206 200h36v240h-36zM292 200h36v240h-36z"/></svg>
<div class="box" style="left:608.3px;top:849.0px;width:284.1px;height:38.0px;border-radius:4px"></div>
<div class="t" style="left:618.00px;top:852.00px;font-size:9px;color:#fff;font-weight:bold;letter-spacing:0.747px;">6. Target Copy</div>
<div class="t" style="left:618.00px;top:864.00px;font-size:9px;color:#ececec;font-weight:bold;letter-spacing:0.054px;">Spawn: Instant • Pattern: Random</div>
<div class="t" style="left:618.00px;top:875.00px;font-size:9px;color:#ececec;font-weight:bold;letter-spacing:0.057px;">Health: 1 • Size: 0.3 • Behaviors: 1</div>
<svg class="a" style="left:610.75px;top:860.40px" width="5.50" height="4.20"><polygon fill="#fff" points="2.75,0 5.50,4.20 0,4.20"/></svg>
<svg class="a" style="left:610.75px;top:870.20px" width="5.50" height="4.40"><polygon fill="#fff" points="0,0 5.50,0 2.75,4.40"/></svg>
<svg class="a" style="left:844.80px;top:862.60px" width="9.60" height="9.60" viewBox="0 0 512 512" preserveAspectRatio="none"><path fill="#fff" fill-rule="evenodd" d="M290.74 93.24l128.02 128.02-277.99 277.99-114.14 12.6C11.35 513.54-1.56 500.62.14 485.34l12.7-114.22 277.9-277.88zm207.2-19.06l-60.11-60.11c-18.75-18.75-49.16-18.75-67.91 0l-56.55 56.55 128.02 128.02 56.55-56.55c18.75-18.76 18.75-49.16 0-67.91z"/></svg>
<svg class="a" style="left:860.90px;top:862.80px" width="9.10" height="9.20" viewBox="0 0 512 512" preserveAspectRatio="none"><path fill="#fff" fill-rule="evenodd" d="M464 0c26.51 0 48 21.49 48 48v288c0 26.51-21.49 48-48 48H176c-26.51 0-48-21.49-48-48V48c0-26.51 21.49-48 48-48h288M176 416c-44.112 0-80-35.888-80-80V128H48c-26.51 0-48 21.49-48 48v288c0 26.51 21.49 48 48 48h288c26.51 0 48-21.49 48-48v-48H176z"/></svg>
<svg class="a" style="left:877.80px;top:863.00px" width="7.90" height="9.00" viewBox="0 0 448 512" preserveAspectRatio="none"><path fill="#fff" fill-rule="evenodd" d="M432 32H312l-9.4-18.7A24 24 0 0 0 281.1 0H166.8a23.72 23.72 0 0 0-21.4 13.3L136 32H16A16 16 0 0 0 0 48v32a16 16 0 0 0 16 16h416a16 16 0 0 0 16-16V48a16 16 0 0 0-16-16zM53.2 467a48 48 0 0 0 47.9 45h245.8a48 48 0 0 0 47.9-45L416 128H32zM120 200h36v240h-36zM206 200h36v240h-36zM292 200h36v240h-36z"/></svg>
<div class="box" style="left:608.3px;top:894.0px;width:284.1px;height:38.0px;border-radius:4px"></div>
<div class="t" style="left:618.00px;top:897.00px;font-size:9px;color:#fff;font-weight:bold;letter-spacing:0.747px;">7. Target Copy</div>
<div class="t" style="left:618.00px;top:909.00px;font-size:9px;color:#ececec;font-weight:bold;letter-spacing:0.054px;">Spawn: Instant • Pattern: Random</div>
<div class="t" style="left:618.00px;top:920.00px;font-size:9px;color:#ececec;font-weight:bold;letter-spacing:0.057px;">Health: 1 • Size: 0.3 • Behaviors: 1</div>
<svg class="a" style="left:610.75px;top:905.40px" width="5.50" height="4.20"><polygon fill="#fff" points="2.75,0 5.50,4.20 0,4.20"/></svg>
<svg class="a" style="left:610.75px;top:915.20px" width="5.50" height="4.40"><polygon fill="#8c8c8c" points="0,0 5.50,0 2.75,4.40"/></svg>
<svg class="a" style="left:844.80px;top:907.60px" width="9.60" height="9.60" viewBox="0 0 512 512" preserveAspectRatio="none"><path fill="#fff" fill-rule="evenodd" d="M290.74 93.24l128.02 128.02-277.99 277.99-114.14 12.6C11.35 513.54-1.56 500.62.14 485.34l12.7-114.22 277.9-277.88zm207.2-19.06l-60.11-60.11c-18.75-18.75-49.16-18.75-67.91 0l-56.55 56.55 128.02 128.02 56.55-56.55c18.75-18.76 18.75-49.16 0-67.91z"/></svg>
<svg class="a" style="left:860.90px;top:907.80px" width="9.10" height="9.20" viewBox="0 0 512 512" preserveAspectRatio="none"><path fill="#fff" fill-rule="evenodd" d="M464 0c26.51 0 48 21.49 48 48v288c0 26.51-21.49 48-48 48H176c-26.51 0-48-21.49-48-48V48c0-26.51 21.49-48 48-48h288M176 416c-44.112 0-80-35.888-80-80V128H48c-26.51 0-48 21.49-48 48v288c0 26.51 21.49 48 48 48h288c26.51 0 48-21.49 48-48v-48H176z"/></svg>
<svg class="a" style="left:877.80px;top:908.00px" width="7.90" height="9.00" viewBox="0 0 448 512" preserveAspectRatio="none"><path fill="#fff" fill-rule="evenodd" d="M432 32H312l-9.4-18.7A24 24 0 0 0 281.1 0H166.8a23.72 23.72 0 0 0-21.4 13.3L136 32H16A16 16 0 0 0 0 48v32a16 16 0 0 0 16 16h416a16 16 0 0 0 16-16V48a16 16 0 0 0-16-16zM53.2 467a48 48 0 0 0 47.9 45h245.8a48 48 0 0 0 47.9-45L416 128H32zM120 200h36v240h-36zM206 200h36v240h-36zM292 200h36v240h-36z"/></svg>
<!--/MIDDLE-->
<!--TARGET-->
<div class="panel" style="left:910.0px;top:385.0px;width:310.3px;height:589.5px;"></div>
<div class="t" style="left:915.60px;top:399.00px;font-size:14px;color:#f3f3f3;-webkit-text-stroke:0.2px;letter-spacing:0.260px;">Target Name</div>
<div class="t" style="left:915.60px;top:426.00px;font-size:14px;color:#f3f3f3;-webkit-text-stroke:0.2px;letter-spacing:0.175px;">Style</div>
<div class="t" style="left:915.60px;top:453.00px;font-size:14px;color:#f3f3f3;-webkit-text-stroke:0.2px;letter-spacing:-0.059px;">Size</div>
<div class="t" style="left:915.60px;top:480.00px;font-size:14px;color:#f3f3f3;-webkit-text-stroke:0.2px;letter-spacing:0.172px;">Health</div>
<div class="t" style="left:915.60px;top:507.00px;font-size:14px;color:#f3f3f3;-webkit-text-stroke:0.2px;letter-spacing:0.285px;">Lifetime</div>
<div class="inp" style="left:1066.0px;top:394.3px;width:148.0px;height:22.7px;"></div>
<div class="inp" style="left:1066.0px;top:421.3px;width:148.0px;height:22.7px;"></div>
<div class="inp" style="left:1066.0px;top:448.3px;width:148.0px;height:22.7px;"></div>
<div class="inp" style="left:1066.0px;top:475.3px;width:148.0px;height:22.7px;"></div>
<div class="inp" style="left:1066.0px;top:502.3px;width:148.0px;height:22.7px;"></div>
<div class="t" style="left:1075.70px;top:402.00px;font-size:10px;color:#f0f0f0;font-weight:bold;letter-spacing:-0.170px;">Target</div>
<div class="t" style="left:1075.70px;top:429.00px;font-size:10px;color:#9aa1a9;-webkit-text-stroke:0.2px;letter-spacing:0.092px;-webkit-text-stroke:0.35px;">Target_Sphere</div>
<div class="t" style="left:1075.70px;top:483.00px;font-size:10px;color:#f0f0f0;font-weight:bold;">1</div>
<div class="t" style="left:1075.70px;top:510.00px;font-size:10px;color:#f0f0f0;font-weight:bold;letter-spacing:0.200px;">0.0</div>
<svg class="a" style="left:1192.90px;top:427.88px" width="14.20" height="10.24"><polyline fill="none" stroke="#1a76a8" stroke-width="2.4" stroke-linecap="round" stroke-linejoin="round" points="3,3 7.10,7.24 11.20,3"/></svg>
<div class="gb" style="left:987.0px;top:530.0px;width:157.0px;height:16.3px;"></div>
<div class="t" style="left:1007.90px;top:534.00px;font-size:10px;color:#fff;font-weight:bold;letter-spacing:0.495px;">+ SPAWN BEHAVIOUR</div>
<div class="box" style="left:915.3px;top:550.8px;width:299.5px;height:98.5px;"></div>
<div class="box" style="left:920.0px;top:555.5px;width:290.0px;height:28.5px;border-radius:4px"></div>
<div class="box" style="left:920.0px;top:587.8px;width:290.0px;height:28.5px;border-radius:4px"></div>
<div class="t" style="left:923.30px;top:563.00px;font-size:14px;color:#f3f3f3;-webkit-text-stroke:0.2px;letter-spacing:0.239px;">Instant</div>
<div class="t" style="left:923.30px;top:595.00px;font-size:14px;color:#f3f3f3;-webkit-text-stroke:0.2px;letter-spacing:0.132px;">Random Bounds</div>
<svg class="a" style="left:1177.00px;top:597.30px" width="9.70" height="9.40" viewBox="0 0 512 512" preserveAspectRatio="none"><path fill="#fff" fill-rule="evenodd" d="M290.74 93.24l128.02 128.02-277.99 277.99-114.14 12.6C11.35 513.54-1.56 500.62.14 485.34l12.7-114.22 277.9-277.88zm207.2-19.06l-60.11-60.11c-18.75-18.75-49.16-18.75-67.91 0l-56.55 56.55 128.02 128.02 56.55-56.55c18.75-18.76 18.75-49.16 0-67.91z"/></svg>
<svg class="a" style="left:1192.80px;top:597.50px" width="8.00" height="9.20" viewBox="0 0 448 512" preserveAspectRatio="none"><path fill="#fff" fill-rule="evenodd" d="M432 32H312l-9.4-18.7A24 24 0 0 0 281.1 0H166.8a23.72 23.72 0 0 0-21.4 13.3L136 32H16A16 16 0 0 0 0 48v32a16 16 0 0 0 16 16h416a16 16 0 0 0 16-16V48a16 16 0 0 0-16-16zM53.2 467a48 48 0 0 0 47.9 45h245.8a48 48 0 0 0 47.9-45L416 128H32zM120 200h36v240h-36zM206 200h36v240h-36zM292 200h36v240h-36z"/></svg>
<div class="t" style="left:915.30px;top:658.00px;font-size:14px;color:#f3f3f3;-webkit-text-stroke:0.2px;letter-spacing:0.068px;">Enable Respawn</div>
<div class="a" style="left:1070.8px;top:659px;width:24.2px;height:11px;border-radius:5.5px;background:#1e9bf0"></div><div class="a" style="left:1086.5px;top:661.6px;width:5.8px;height:5.8px;border-radius:50%;background:#fff"></div>
<div class="inp" style="left:1102.0px;top:653.3px;width:112.0px;height:22.7px;height:22.7px"></div>
<div class="t" style="left:1110.50px;top:660.00px;font-size:10px;color:#f0f0f0;font-weight:bold;letter-spacing:0.200px;">0.5</div>
<div class="gb" style="left:983.7px;top:689.2px;width:162.6px;height:16.6px;"></div>
<div class="t" style="left:1000.00px;top:693.00px;font-size:10px;color:#fff;font-weight:bold;letter-spacing:0.554px;">+ ADAPTIVE DIFFICULTY</div>
<div class="gb" style="left:983.7px;top:713.8px;width:162.6px;height:16.7px;"></div>
<div class="t" style="left:1029.20px;top:718.00px;font-size:10px;color:#fff;font-weight:bold;letter-spacing:0.447px;">+ BEHAVIOUR</div>
<div class="box" style="left:915.8px;top:744.2px;width:299.0px;height:225.8px;"></div>
<div class="box" style="left:920.0px;top:748.3px;width:289.7px;height:22.5px;border-radius:4px"></div>
<div class="box" style="left:920.0px;top:775.8px;width:289.7px;height:23.4px;border-radius:4px"></div>
<div class="t" style="left:925.30px;top:752.00px;font-size:14px;color:#f3f3f3;-webkit-text-stroke:0.2px;letter-spacing:0.046px;">Fly</div>
<div class="t" style="left:925.30px;top:781.00px;font-size:14px;color:#f3f3f3;-webkit-text-stroke:0.2px;letter-spacing:-0.121px;">Dash</div>
<svg class="a" style="left:1176.70px;top:755.00px" width="10.00" height="9.20" viewBox="0 0 512 512" preserveAspectRatio="none"><path fill="#fff" fill-rule="evenodd" d="M290.74 93.24l128.02 128.02-277.99 277.99-114.14 12.6C11.35 513.54-1.56 500.62.14 485.34l12.7-114.22 277.9-277.88zm207.2-19.06l-60.11-60.11c-18.75-18.75-49.16-18.75-67.91 0l-56.55 56.55 128.02 128.02 56.55-56.55c18.75-18.76 18.75-49.16 0-67.91z"/></svg>
<svg class="a" style="left:1193.70px;top:755.00px" width="8.00" height="9.20" viewBox="0 0 448 512" preserveAspectRatio="none"><path fill="#fff" fill-rule="evenodd" d="M432 32H312l-9.4-18.7A24 24 0 0 0 281.1 0H166.8a23.72 23.72 0 0 0-21.4 13.3L136 32H16A16 16 0 0 0 0 48v32a16 16 0 0 0 16 16h416a16 16 0 0 0 16-16V48a16 16 0 0 0-16-16zM53.2 467a48 48 0 0 0 47.9 45h245.8a48 48 0 0 0 47.9-45L416 128H32zM120 200h36v240h-36zM206 200h36v240h-36zM292 200h36v240h-36z"/></svg>
<svg class="a" style="left:1176.70px;top:783.00px" width="10.00" height="9.20" viewBox="0 0 512 512" preserveAspectRatio="none"><path fill="#fff" fill-rule="evenodd" d="M290.74 93.24l128.02 128.02-277.99 277.99-114.14 12.6C11.35 513.54-1.56 500.62.14 485.34l12.7-114.22 277.9-277.88zm207.2-19.06l-60.11-60.11c-18.75-18.75-49.16-18.75-67.91 0l-56.55 56.55 128.02 128.02 56.55-56.55c18.75-18.76 18.75-49.16 0-67.91z"/></svg>
<svg class="a" style="left:1193.70px;top:783.00px" width="8.00" height="9.20" viewBox="0 0 448 512" preserveAspectRatio="none"><path fill="#fff" fill-rule="evenodd" d="M432 32H312l-9.4-18.7A24 24 0 0 0 281.1 0H166.8a23.72 23.72 0 0 0-21.4 13.3L136 32H16A16 16 0 0 0 0 48v32a16 16 0 0 0 16 16h416a16 16 0 0 0 16-16V48a16 16 0 0 0-16-16zM53.2 467a48 48 0 0 0 47.9 45h245.8a48 48 0 0 0 47.9-45L416 128H32zM120 200h36v240h-36zM206 200h36v240h-36zM292 200h36v240h-36z"/></svg>
<div class="a" style="left:1050.6px;top:454.3px;width:197.2px;height:15.7px;background:#131a22;border-radius:4px"></div>
<div class="t" style="left:1053.80px;top:458.00px;font-size:10px;color:#d4d4d4;-webkit-text-stroke:0.2px;font-style:italic;letter-spacing:0.203px;-webkit-text-stroke:0.4px;">Here you can change the Targets Model.</div>
<!--/TARGET-->
<!--RIGHT-->
<div class="panel" style="left:1225.0px;top:680.0px;width:309.3px;height:294.5px;"></div>
<div class="t" style="left:1230.00px;top:688.00px;font-size:14px;color:#f3f3f3;-webkit-text-stroke:0.2px;letter-spacing:-0.163px;">Interval Mode</div>
<div class="inp" style="left:1381.0px;top:683.3px;width:148.3px;height:22.5px;height:22.5px"></div>
<div class="t" style="left:1230.00px;top:715.00px;font-size:14px;color:#f3f3f3;-webkit-text-stroke:0.2px;letter-spacing:0.194px;">Dash Interval</div>
<div class="inp" style="left:1381.0px;top:710.3px;width:148.3px;height:22.5px;height:22.5px"></div>
<div class="t" style="left:1230.00px;top:742.00px;font-size:14px;color:#f3f3f3;-webkit-text-stroke:0.2px;letter-spacing:0.222px;">Dash Min Interval</div>
<div class="inp" style="left:1381.0px;top:737.3px;width:148.3px;height:22.5px;height:22.5px"></div>
<div class="t" style="left:1230.00px;top:769.00px;font-size:14px;color:#f3f3f3;-webkit-text-stroke:0.2px;letter-spacing:0.174px;">Dash Distance</div>
<div class="inp" style="left:1381.0px;top:764.3px;width:148.3px;height:22.5px;height:22.5px"></div>
<div class="t" style="left:1230.00px;top:796.00px;font-size:14px;color:#f3f3f3;-webkit-text-stroke:0.2px;letter-spacing:0.124px;">Dash Speed</div>
<div class="inp" style="left:1381.0px;top:791.3px;width:148.3px;height:22.5px;height:22.5px"></div>
<div class="t" style="left:1390.00px;top:691.00px;font-size:10px;color:#d0d0d0;-webkit-text-stroke:0.2px;letter-spacing:-0.083px;">Random</div>
<svg class="a" style="left:1508.20px;top:690.03px" width="13.60" height="9.94"><polyline fill="none" stroke="#9a9a9a" stroke-width="2.4" stroke-linecap="round" stroke-linejoin="round" points="3,3 6.80,6.94 10.60,3"/></svg>
<div class="t" style="left:1389.30px;top:716.00px;font-size:14px;color:#c4c4c4;-webkit-text-stroke:0.2px;font-style:italic;letter-spacing:0.438px;">3.00</div>
<div class="t" style="left:1389.30px;top:743.00px;font-size:14px;color:#c4c4c4;-webkit-text-stroke:0.2px;font-style:italic;letter-spacing:-0.137px;">1.50</div>
<div class="t" style="left:1389.30px;top:770.00px;font-size:14px;color:#c4c4c4;-webkit-text-stroke:0.2px;font-style:italic;letter-spacing:0.438px;">8.00</div>
<div class="t" style="left:1389.30px;top:797.00px;font-size:14px;color:#c4c4c4;-webkit-text-stroke:0.2px;font-style:italic;letter-spacing:0.653px;">40.00</div>
<!--/RIGHT-->

<!-- ===== taskbar ===== -->
<div class="a" id="taskbar"></div>
<!--TASKBAR-DETAILS-->
<div class="a" style="left:1094.3px;top:1046.9px;width:30.0px;height:30.0px;background:#2b2b2b;border-radius:4px;border:1px solid #333"></div>
<svg class="a" style="left:803.00px;top:1053.00px" width="18" height="18" viewBox="0 0 18 18"><defs><linearGradient id="wg" x1="0" y1="0" x2="1" y2="1"><stop offset="0" stop-color="#6fe0ff"/><stop offset="1" stop-color="#1f9fe8"/></linearGradient></defs><g fill="url(#wg)"><rect x="0.4" y="0.4" width="8.2" height="8.2" rx="0.8"/><rect x="9.4" y="0.4" width="8.2" height="8.2" rx="0.8"/><rect x="0.4" y="9.4" width="8.2" height="8.2" rx="0.8"/><rect x="9.4" y="9.4" width="8.2" height="8.2" rx="0.8"/></g></svg>
<svg class="a" style="left:836.00px;top:1053.00px" width="18" height="18" viewBox="0 0 18 18"><path fill="#e9a820" d="M1 3 a1 1 0 0 1 1 -1 H7 L9 4 H16 a1 1 0 0 1 1 1 V15 H1Z"/><path fill="#ffd968" d="M1 6 H17 V15 a1 1 0 0 1 -1 1 H2 a1 1 0 0 1 -1 -1Z"/><rect x="4.5" y="11.5" width="9" height="4.5" rx="0.8" fill="#2f8fe0"/></svg>
<div class="a" style="left:843.0px;top:1074.2px;width:4.0px;height:1.8px;background:#8a8a8a;border-radius:1px"></div>
<svg class="a" style="left:869.00px;top:1053.00px" width="18" height="18" viewBox="0 0 18 18"><circle cx="9" cy="9" r="8.6" fill="#e94435"/><path fill="#34a853" d="M1.5 4.8 A8.6 8.6 0 0 0 8.2 17.6 L12.5 11 H5.2Z"/><path fill="#fbbc05" d="M8.2 17.6 A8.6 8.6 0 0 0 16.9 5.6 H9 L12.6 11Z"/><circle cx="9" cy="9" r="4" fill="#fff"/><circle cx="9" cy="9" r="3.1" fill="#4285f4"/></svg>
<div class="a" style="left:876.0px;top:1074.2px;width:4.0px;height:1.8px;background:#8a8a8a;border-radius:1px"></div>
<svg class="a" style="left:902.00px;top:1053.00px" width="18" height="18" viewBox="0 0 18 18"><circle cx="9" cy="9" r="8.7" fill="#5865f2"/><path fill="#fff" d="M4.6 6.2 C6 5.3 7 5.2 7.4 5.2 L7.7 5.8 C8.6 5.7 9.4 5.7 10.3 5.8 L10.6 5.2 C11 5.2 12 5.3 13.4 6.2 C14.3 8 14.7 9.9 14.5 11.8 C13.5 12.6 12.6 12.9 11.8 13 L11.2 12.1 C11.6 12 12 11.8 12.3 11.5 C10.2 12.5 7.8 12.5 5.7 11.5 C6 11.8 6.4 12 6.8 12.1 L6.2 13 C5.4 12.9 4.5 12.6 3.5 11.8 C3.3 9.9 3.7 8 4.6 6.2Z"/><ellipse cx="7.2" cy="9.3" rx="1.1" ry="1.25" fill="#5865f2"/><ellipse cx="10.8" cy="9.3" rx="1.1" ry="1.25" fill="#5865f2"/></svg>
<svg class="a" style="left:935.00px;top:1053.00px" width="18" height="18" viewBox="0 0 18 18"><defs><linearGradient id="sg944" x1="0" y1="0" x2="0" y2="1"><stop offset="0" stop-color="#111d2e"/><stop offset="1" stop-color="#1387b8"/></linearGradient></defs><circle cx="9" cy="9" r="8.7" fill="url(#sg944)"/><circle cx="11.8" cy="6.6" r="3" fill="#fff"/><circle cx="11.8" cy="6.6" r="1.7" fill="#1a3a5c"/><path fill="#fff" d="M0.5 9.2 L6 11.4 L9.6 8.4 L11 9.6 L7.6 12.6 A2.4 2.4 0 0 1 3.2 13.2 L0.8 12.2Z"/></svg>
<svg class="a" style="left:1034.00px;top:1053.00px" width="18" height="18" viewBox="0 0 18 18"><defs><linearGradient id="sg1043" x1="0" y1="0" x2="0" y2="1"><stop offset="0" stop-color="#111d2e"/><stop offset="1" stop-color="#1387b8"/></linearGradient></defs><circle cx="9" cy="9" r="8.7" fill="url(#sg1043)"/><circle cx="11.8" cy="6.6" r="3" fill="#fff"/><circle cx="11.8" cy="6.6" r="1.7" fill="#1a3a5c"/><path fill="#fff" d="M0.5 9.2 L6 11.4 L9.6 8.4 L11 9.6 L7.6 12.6 A2.4 2.4 0 0 1 3.2 13.2 L0.8 12.2Z"/></svg>
<div class="a" style="left:1041.0px;top:1074.2px;width:4.0px;height:1.8px;background:#8a8a8a;border-radius:1px"></div>
<svg class="a" style="left:968.00px;top:1053.00px" width="18" height="18" viewBox="0 0 18 18"><path fill="#2a9df0" d="M12.8 0.8 L17 2.8 V15.2 L12.8 17.2 L5.4 10.4 L2.2 12.9 L0.8 12.1 V5.9 L2.2 5.1 L5.4 7.6Z"/><path fill="#0b6fc0" d="M12.8 0.8 L17 2.8 V15.2 L12.8 17.2Z"/><path fill="#1c1c1c" d="M12.8 5.6 V12.4 L8.2 9Z"/><path fill="#1c1c1c" d="M2.4 7.2 L4.2 9 L2.4 10.8Z"/></svg>
<div class="a" style="left:975.0px;top:1074.2px;width:4.0px;height:1.8px;background:#8a8a8a;border-radius:1px"></div>
<svg class="a" style="left:1001.00px;top:1052.50px" width="18" height="18" viewBox="0 0 18 18"><path fill="#c5ccd6" fill-rule="evenodd" d="M9 1.6 L15.4 5.3 V12.7 L9 16.4 L2.6 12.7 V5.3Z M9 4.3 L12.2 6.15 L9 8 L5.8 6.15Z M4.7 7.8 L8 9.7 V13.5 L4.7 11.6Z M13.3 7.8 L10 9.7 V13.5 L13.3 11.6Z"/><text x="10.2" y="17.8" font-family="Liberation Sans" font-weight="bold" font-size="11.5" fill="#e4e8ec" stroke="#1c1c1c" stroke-width="0.5" paint-order="stroke">6</text></svg>
<div class="a" style="left:1008.0px;top:1074.2px;width:4.0px;height:1.8px;background:#8a8a8a;border-radius:1px"></div>
<svg class="a" style="left:1067.00px;top:1053.00px" width="18" height="18" viewBox="0 0 18 18"><circle cx="9" cy="9" r="8.7" fill="#2ba3dc"/><path fill="#fff" d="M3.6 8.8 L13.6 4.8 L11.9 13.4 L8.6 11 L7.2 12.6 L7 10 L11.6 6.4 L5.8 9.8Z"/></svg>
<div class="a" style="left:1074.0px;top:1074.2px;width:4.0px;height:1.8px;background:#8a8a8a;border-radius:1px"></div>
<svg class="a" style="left:1100.00px;top:1052.50px" width="18" height="18" viewBox="0 0 18 18"><path fill="#c5ccd6" fill-rule="evenodd" d="M9 1.6 L15.4 5.3 V12.7 L9 16.4 L2.6 12.7 V5.3Z M9 4.3 L12.2 6.15 L9 8 L5.8 6.15Z M4.7 7.8 L8 9.7 V13.5 L4.7 11.6Z M13.3 7.8 L10 9.7 V13.5 L13.3 11.6Z"/></svg>
<div class="a" style="left:1103.0px;top:1074.0px;width:12.0px;height:2.2px;background:#4cc2ff;border-radius:1px"></div>
<svg class="a" style="left:1910.80px;top:70.00px" width="6.40" height="3.60"><polygon fill="#9b9b9b" points="3.20,0 6.40,3.60 0,3.60"/></svg>
<svg class="a" style="left:1910.80px;top:1036.40px" width="6.40" height="3.60"><polygon fill="#9b9b9b" points="0,0 6.40,0 3.20,3.60"/></svg>
<svg class="a" style="left:1742.00px;top:1058.00px" width="11" height="8" viewBox="0 0 11 8"><polyline fill="none" stroke="#f0f0f0" stroke-width="1.2" stroke-linecap="round" stroke-linejoin="round" points="1.5,6 5.5,2 9.5,6"/></svg>
<div class="t" style="left:1767.60px;top:1060.00px;font-size:8px;color:#f4f4f4;-webkit-text-stroke:0.2px;letter-spacing:-0.112px;">ENG</div>
<svg class="a" style="left:1797.50px;top:1055.50px" width="14" height="13" viewBox="0 0 14 13"><g fill="none" stroke="#f0f0f0" stroke-width="1.1"><path d="M9.4 1.2 H1 V9 H9.8"/><path d="M3.2 11.6 H9.8 M5.5 9 V11.6"/><rect x="10.2" y="0.8" width="2.6" height="3.6" rx="0.5"/><path d="M11.5 4.4 V11.6 H9.8"/></g></svg>
<svg class="a" style="left:1815.00px;top:1056.50px" width="14" height="11" viewBox="0 0 14 11"><path fill="none" stroke="#f0f0f0" stroke-width="1.1" stroke-linejoin="round" d="M1 3.9 H3.2 L6 1.2 V9.8 L3.2 7.1 H1Z"/><path fill="none" stroke="#f0f0f0" stroke-width="1" stroke-linecap="round" d="M7.8 3.6 A2.6 2.6 0 0 1 7.8 7.4 M9.4 2 A4.8 4.8 0 0 1 9.4 9"/><path fill="none" stroke="#777" stroke-width="1" stroke-linecap="round" d="M11.2 0.8 A6.6 6.6 0 0 1 11.2 10.2"/></svg>
<div class="t" style="left:1866.30px;top:1053.00px;font-size:8px;color:#f4f4f4;-webkit-text-stroke:0.2px;letter-spacing:0.256px;">19:35</div>
<div class="t" style="left:1841.80px;top:1065.00px;font-size:8px;color:#f4f4f4;-webkit-text-stroke:0.2px;letter-spacing:0.576px;">14/02/2026</div>
<svg class="a" style="left:1892.50px;top:1055.50px" width="13" height="13" viewBox="0 0 13 13"><path fill="none" stroke="#f0f0f0" stroke-width="1.1" stroke-linejoin="round" d="M1.8 9.6 C3 8.6 2.7 6.2 3.3 4.4 C3.9 2.6 5.2 1.7 6.6 1.7 C7.3 1.7 7.9 1.9 8.4 2.3 M10.3 6 C10.4 7.4 10.6 8.8 11.5 9.6 H1.8"/><path fill="none" stroke="#f0f0f0" stroke-width="1" d="M5.3 10.9 A1.4 1.4 0 0 0 8 10.9"/><path fill="none" stroke="#f0f0f0" stroke-width="0.9" d="M8.2 3.3 H10.6 L8.2 5.8 H10.8"/></svg>
<!--/TASKBAR-DETAILS-->
</div>
</body>
</html>
